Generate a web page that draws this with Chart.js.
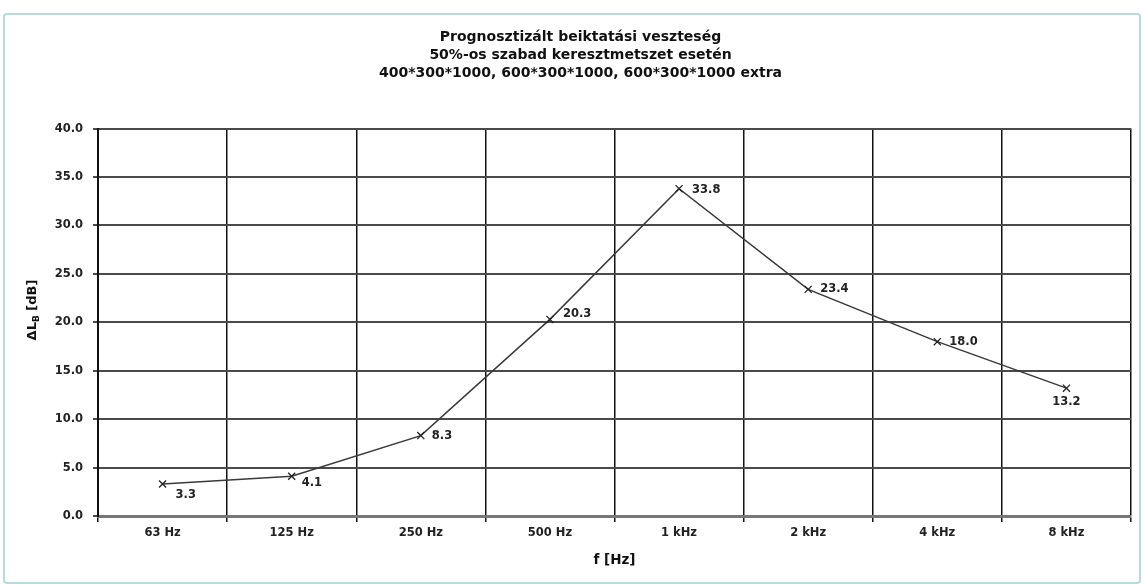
<!DOCTYPE html>
<html>
<head>
<meta charset="utf-8">
<script src="https://cdn.jsdelivr.net/npm/chart.js@4"></script>
<style>
  html, body { margin: 0; padding: 0; background: #fff; }
  #wrap { position: relative; width: 1143px; height: 585px; }
  #frame {
    position: absolute; left: 3px; top: 13px; width: 1134px; height: 567px;
    border: 2px solid #b4dcdf; border-radius: 4px; pointer-events: none;
  }
</style>
</head>
<body>
<div id="wrap">
  <canvas id="myChart" width="1143" height="585"></canvas>
  <div id="frame"></div>
</div>
<script>
const frequencies = ['63 Hz', '125 Hz', '250 Hz', '500 Hz', '1 kHz', '2 kHz', '4 kHz', '8 kHz'];
const insertionLoss = [3.3, 4.1, 8.3, 20.3, 33.8, 23.4, 18.0, 13.2];
const titleLines = [
  'Prognosztizált beiktatási veszteség',
  '50%-os szabad keresztmetszet esetén',
  '400*300*1000, 600*300*1000, 600*300*1000 extra'
];

// where each value label sits relative to its point (dx, dy, align)
const labelPlacement = [
  [13, 11, 'left'], [10, 7, 'left'], [11, 0, 'left'], [13, -5, 'left'],
  [13, 1, 'left'], [12, 0, 'left'], [12, 0, 'left'], [0, 14, 'center']
];

const FONT = "'DejaVu Sans', Arial, sans-serif";

const extrasPlugin = {
  id: 'extras',
  afterDatasetsDraw(chart) {
    const ctx = chart.ctx;
    const meta = chart.getDatasetMeta(0);
    ctx.save();
    ctx.font = 'bold 11.5px ' + FONT;
    ctx.fillStyle = '#222';
    ctx.textBaseline = 'middle';
    meta.data.forEach((pt, i) => {
      const p = labelPlacement[i];
      ctx.textAlign = p[2];
      ctx.fillText(insertionLoss[i].toFixed(1), pt.x + p[0], pt.y + p[1]);
    });
    ctx.restore();

    // axis titles
    const area = chart.chartArea;
    ctx.save();
    ctx.fillStyle = '#111';
    ctx.font = 'bold 13.5px ' + FONT;
    ctx.textAlign = 'center';
    ctx.textBaseline = 'middle';
    ctx.fillText('f [Hz]', (area.left + area.right) / 2, 560);

    ctx.translate(33, 310);
    ctx.rotate(-Math.PI / 2);
    const main = 'ΔL';
    const sub = 'B';
    const tail = ' [dB]';
    ctx.font = 'bold 13px ' + FONT;
    const w1 = ctx.measureText(main).width;
    const w3 = ctx.measureText(tail).width;
    ctx.font = 'bold 9px ' + FONT;
    const w2 = ctx.measureText(sub).width;
    let x = -(w1 + w2 + w3) / 2;
    ctx.textAlign = 'left';
    ctx.font = 'bold 13px ' + FONT;
    ctx.fillText(main, x, 0);
    x += w1;
    ctx.font = 'bold 9px ' + FONT;
    ctx.fillText(sub, x, 4);
    x += w2;
    ctx.font = 'bold 13px ' + FONT;
    ctx.fillText(tail, x, 0);
    ctx.restore();
  }
};

const ctx = document.getElementById('myChart').getContext('2d');
new Chart(ctx, {
  type: 'line',
  data: {
    labels: frequencies,
    datasets: [{
      data: insertionLoss,
      borderColor: '#3a3a3a',
      borderWidth: 1.5,
      pointStyle: 'crossRot',
      pointRadius: 5,
      pointBorderColor: '#222',
      pointBorderWidth: 1.3,
      tension: 0
    }]
  },
  options: {
    responsive: false,
    animation: false,
    layout: { padding: { left: 30, right: 12, top: 0, bottom: 0 } },
    plugins: {
      legend: { display: false },
      tooltip: { enabled: false },
      title: {
        display: true,
        text: titleLines,
        color: '#111',
        font: { family: FONT, size: 14, weight: 'bold', lineHeight: 1.3 },
        padding: { top: 28, bottom: 46 }
      }
    },
    scales: {
      x: {
        offset: true,
        grid: {
          offset: true,
          color: '#111',
          lineWidth: 1.5,
          tickLength: 6
        },
        border: { color: '#777', width: 3 },
        ticks: {
          color: '#222',
          padding: 4,
          font: { family: FONT, size: 11.5, weight: 'bold' }
        },
        afterFit(scale) { scale.height = 69; }
      },
      y: {
        min: 0,
        max: 40,
        grid: {
          color: '#4a4a4a',
          lineWidth: 2,
          tickLength: 5,
          borderDash: [1, 1]
        },
        border: { color: '#111', width: 2 },
        ticks: {
          stepSize: 5,
          color: '#222',
          padding: 10,
          font: { family: FONT, size: 11.5, weight: 'bold' },
          callback: v => v.toFixed(1)
        },
        afterFit(scale) { scale.width = 68; }
      }
    }
  },
  plugins: [extrasPlugin]
});
</script>
</body>
</html>
